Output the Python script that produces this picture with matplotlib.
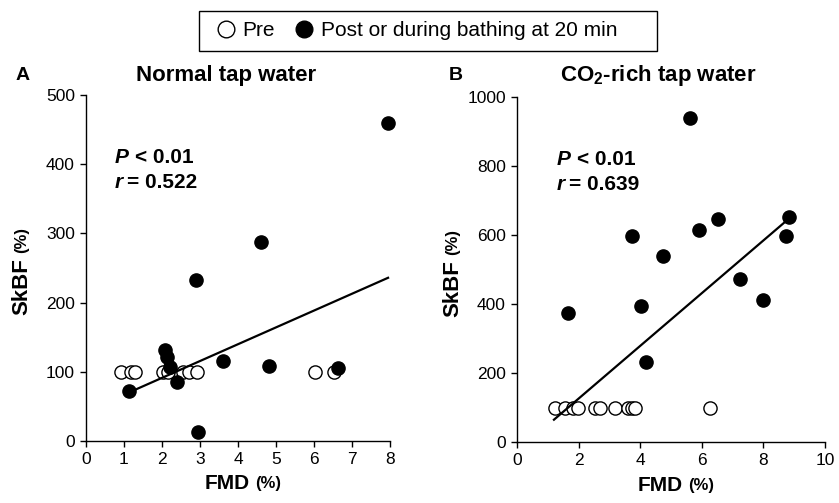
import matplotlib.pyplot as plt
from matplotlib.lines import Line2D
from matplotlib.patches import Rectangle

plt.rcParams['font.family'] = ['Liberation Sans', 'DejaVu Sans']
plt.rcParams['mathtext.default'] = 'regular'

# panel A: normal tap water
pre_a_x = [0.92, 1.19, 1.30, 2.03, 2.15, 2.55, 2.70, 2.92, 6.03, 6.52]
pre_a_y = [100, 100, 100, 100, 100, 100, 100, 100, 100, 100]
post_a_x = [1.12, 2.08, 2.12, 2.20, 2.39, 2.89, 2.96, 3.60, 4.60, 4.82, 6.63, 7.96]
post_a_y = [72, 131, 122, 107, 85, 232, 13, 115, 287, 108, 106, 460]
fit_a = (24.3, 42.6)          # slope, intercept
fit_a_range = [1.2, 7.95]

# panel B: CO2-rich tap water
pre_b_x = [1.22, 1.55, 1.81, 1.97, 2.52, 2.69, 3.17, 3.60, 3.72, 3.82, 6.28]
pre_b_y = [100, 100, 100, 100, 100, 100, 100, 100, 100, 100, 100]
post_b_x = [1.66, 3.73, 4.02, 4.18, 4.74, 5.63, 5.91, 6.53, 7.25, 7.99, 8.75, 8.82]
post_b_y = [374, 598, 395, 232, 540, 941, 615, 647, 472, 412, 598, 652]
fit_b = (76.4, -26.2)
fit_b_range = [1.2, 8.72]

fig = plt.figure(figsize=(8.39, 5.03), dpi=100)
ax1 = fig.add_axes([0.1025, 0.1233, 0.3623, 0.688])
ax2 = fig.add_axes([0.6162, 0.1207, 0.3671, 0.6859])

panels = [
    (ax1, pre_a_x, pre_a_y, post_a_x, post_a_y, fit_a, fit_a_range,
     (0, 8), range(0, 9), (0, 500), range(0, 501, 100), '0.522', 0.095),
    (ax2, pre_b_x, pre_b_y, post_b_x, post_b_y, fit_b, fit_b_range,
     (0, 10), range(0, 11, 2), (0, 1000), range(0, 1001, 200), '0.639', 0.13),
]

for ax, px, py, qx, qy, fit, fr, xl, xt, yl, yt, r, bx in panels:
    ax.plot(px, py, 'o', ms=9.5, mfc='white', mec='black', mew=1.0,
            zorder=3, clip_on=False)
    ax.plot(qx, qy, 'o', ms=9.5, mfc='black', mec='black', mew=1.0,
            zorder=4, clip_on=False)
    ax.plot(fr, [fit[0] * v + fit[1] for v in fr], color='black',
            lw=1.6, zorder=5)
    ax.set_xlim(*xl)
    ax.set_ylim(*yl)
    ax.set_xticks(list(xt))
    ax.set_yticks(list(yt))
    ax.spines['top'].set_visible(False)
    ax.spines['right'].set_visible(False)
    for s in ['left', 'bottom']:
        ax.spines[s].set_linewidth(1.0)
    ax.tick_params(direction='out', length=4, width=1.0, labelsize=12.5,
                   pad=4)

    # stats annotation
    ax.annotate('P', xy=(bx, 0.803), xycoords='axes fraction',
                fontsize=15, fontweight='bold', fontstyle='italic',
                va='baseline')
    ax.annotate('< 0.01', xy=(bx, 0.803), xycoords='axes fraction',
                xytext=(20, 0), textcoords='offset pixels',
                fontsize=15, fontweight='bold', va='baseline')
    ax.annotate('r', xy=(bx, 0.803), xycoords='axes fraction',
                xytext=(0, -25), textcoords='offset pixels',
                fontsize=15, fontweight='bold', fontstyle='italic',
                va='baseline')
    ax.annotate('= ' + r, xy=(bx, 0.803), xycoords='axes fraction',
                xytext=(12, -25), textcoords='offset pixels',
                fontsize=15, fontweight='bold', va='baseline')

    # axis labels with smaller unit
    ax.annotate('FMD', xy=(0.5, 0), xycoords='axes fraction',
                xytext=(12, -43), textcoords='offset pixels',
                fontsize=15, fontweight='bold', ha='right', va='center')
    ax.annotate('(%)', xy=(0.5, 0), xycoords='axes fraction',
                xytext=(17, -43), textcoords='offset pixels',
                fontsize=12, fontweight='bold', ha='left', va='center')
    ax.annotate('SkBF', xy=(0, 0.5), xycoords='axes fraction',
                xytext=(-64, 10), textcoords='offset pixels',
                fontsize=16, fontweight='bold', rotation=90,
                ha='center', va='top')
    ax.annotate('(%)', xy=(0, 0.5), xycoords='axes fraction',
                xytext=(-64, 15), textcoords='offset pixels',
                fontsize=12, fontweight='bold', rotation=90,
                ha='center', va='bottom')

fig.text(226 / 839, 1 - 76 / 503, 'Normal tap water', fontsize=16,
         fontweight='bold', ha='center', va='center')
fig.text(658 / 839, 1 - 76 / 503, 'CO$_2$-rich tap water', fontsize=16,
         fontweight='bold', ha='center', va='center')
fig.text(16 / 839, 1 - 76 / 503, 'A', fontsize=14, fontweight='bold',
         ha='left', va='center')
fig.text(449 / 839, 1 - 76 / 503, 'B', fontsize=14, fontweight='bold',
         ha='left', va='center')

# legend with its own box
fig.patches.append(Rectangle((199 / 839, 1 - 51 / 503), 458 / 839, 40 / 503,
                             transform=fig.transFigure, fill=False,
                             edgecolor='black', linewidth=1.0))
handles = [
    Line2D([], [], ls='none', marker='o', ms=12, mfc='white', mec='black',
           mew=1.0),
    Line2D([], [], ls='none', marker='o', ms=12, mfc='black', mec='black'),
]
fig.legend(handles, ['Pre', 'Post or during bathing at 20 min'],
           loc='center left', bbox_to_anchor=(205 / 839, 1 - 31 / 503),
           ncol=2, frameon=False, fontsize=15, handletextpad=0.2,
           columnspacing=0.8, handlelength=1.2, borderaxespad=0)

fig.savefig('out.png', dpi=100)
